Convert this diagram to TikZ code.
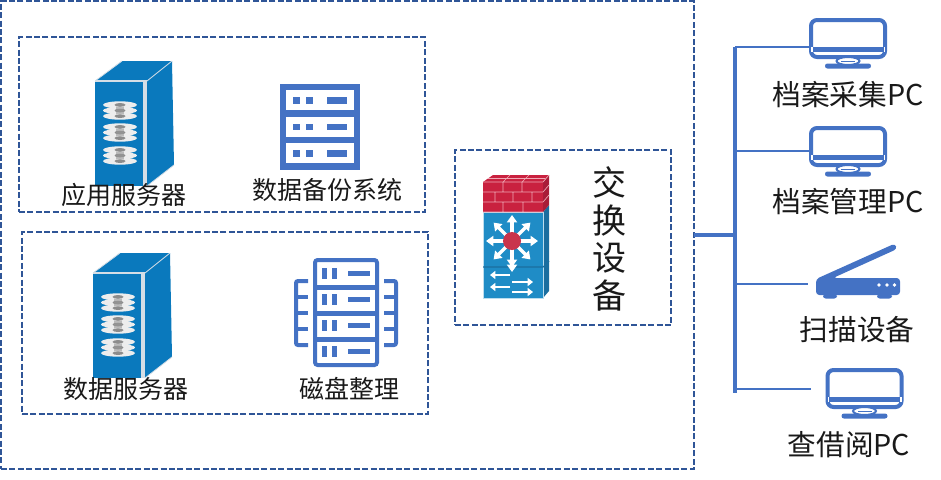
\documentclass[tikz,border=0pt]{standalone}
\usepackage{fontspec}
\setmainfont{Noto Sans CJK SC}
\usetikzlibrary{arrows.meta}
\definecolor{iconblue}{HTML}{4472C4}
\definecolor{dashnavy}{HTML}{2F5597}
\definecolor{srvblue}{HTML}{0A79BD}
\definecolor{srvstrip}{HTML}{D5DEE6}
\definecolor{swblue}{HTML}{1F8CC6}
\definecolor{swside}{HTML}{1B6E9F}
\definecolor{wallred}{HTML}{C9213F}
\definecolor{wallside}{HTML}{A81C38}
\definecolor{wallline}{HTML}{F0A8B4}
\definecolor{hubred}{HTML}{C9344C}
\tikzset{
  x=0.75pt,y=-0.75pt,
  dashbox/.style={draw=dashnavy,line width=1.6pt,dash pattern=on 4.5pt off 1.8pt,fill=none,inner sep=0pt,outer sep=0pt,anchor=north west},
  lbl/.style={inner sep=0pt,font=\fontsize{18.75pt}{22pt}\selectfont,text=black!90},
  lblbig/.style={inner sep=0pt,font=\fontsize{21.5pt}{26pt}\selectfont,text=black!90},
  vlbl/.style={inner sep=0pt,align=center,font=\fontsize{25.5pt}{28.2pt}\selectfont,text=black!90},
  busmain/.style={draw=iconblue,line width=2.4pt},
  busthin/.style={draw=iconblue,line width=1pt},
  screen/.style={draw=iconblue,line width=3pt,rounded corners=4.5pt,fill=white,minimum width=55.5pt,minimum height=27.75pt,inner sep=0pt},
  disk/.pic={
    \foreach \d in {5.6,0,-5.6}{
      \fill[white!93!black] (0,\d) ellipse [x radius=17,y radius=3.6];
      \fill[black!45] (0,\d) ellipse [x radius=5.5,y radius=1.9];
    }
    \fill[black!40,opacity=.6] (-4,-3.5) rectangle (4,3.5);
  },
  serverpic/.pic={
    \fill[srvblue] (95,81) -- (122,61) -- (172,61) -- (147,81) -- cycle;
    \fill[srvblue] (147,81) -- (172,61) -- (174,165) -- (147,186) -- cycle;
    \fill[srvblue] (95,81) rectangle (143,186);
    \fill[srvstrip] (143,81) rectangle (147,186);
    \fill[srvstrip] (95,80) rectangle (147,82);
    \draw[srvstrip,line width=.6pt] (95,81) -- (122,61) (147,81) -- (172,61) (147,186) -- (174,165);
    \pic at (120,110.5) {disk};
    \pic at (120,132.5) {disk};
    \pic at (120,155.5) {disk};
  },
  monitorpic/.pic={
    \fill[iconblue] (-37,29) rectangle (37,34);
    \fill[white] (-37,29) rectangle (-35.5,34);
    \fill[white] (35.5,29) rectangle (37,34);
    \fill[iconblue,rounded corners=1.8pt] (-23,45.5) rectangle (23,50.5);
    \draw[iconblue,line width=1.5pt,fill=white] (0,43) ellipse [x radius=11.5,y radius=4];
    \fill[iconblue] (-7,42.5) rectangle (7,44);
  }
}
\begin{document}
\begin{tikzpicture}
\useasboundingbox (0,0) rectangle (941,479);
% dashed frames
\node[dashbox,minimum width=519.6pt,minimum height=351pt] (outer) at (1,1) {};
\node[dashbox,minimum width=304.5pt,minimum height=131.2pt] (boxa) at (19,37) {};
\node[dashbox,minimum width=304.5pt,minimum height=136.5pt] (boxb) at (22,232) {};
\node[dashbox,minimum width=162pt,minimum height=131.2pt] (boxc) at (455,150) {};
% servers
\pic at (0,0) {serverpic};
\pic at (-2,192) {serverpic};
% backup system icon
\fill[iconblue] (280,84) rectangle (360,170);
\foreach \r in {90,116.5,143}{
  \fill[white] (286,\r) rectangle (353.5,\r+20);
  \fill[iconblue] (293,\r+7) rectangle (299.5,\r+13.5);
  \fill[iconblue] (306,\r+7) rectangle (312.5,\r+13.5);
  \fill[iconblue] (327,\r+7) rectangle (347,\r+13.5);
}
% disk array icon
\draw[iconblue,line width=3pt,rounded corners=2pt,fill=white] (315,260) rectangle (377,365);
\foreach \r in {285,311,337}{ \fill[iconblue] (313,\r) rectangle (379,\r+4.5); }
\foreach \r in {263,289,315,341}{
  \fill[iconblue] (322,\r+5) rectangle (327,\r+16);
  \fill[iconblue] (332,\r+5) rectangle (337,\r+16);
  \fill[iconblue] (348,\r+8) rectangle (370,\r+13);
}
\draw[iconblue,line width=3pt,rounded corners=1.5pt] (308,281) -- (296,281) -- (296,345) -- (308,345);
\draw[iconblue,line width=3pt,rounded corners=1.5pt] (384,281) -- (396,281) -- (396,345) -- (384,345);
\foreach \r in {297,313,329}{
  \draw[iconblue,line width=3.6pt] (296,\r) -- (308,\r);
  \draw[iconblue,line width=3.6pt] (384,\r) -- (396,\r);
}
% switch / firewall
\fill[swside] (543,212) -- (549,205) -- (549,291) -- (543,298) -- cycle;
\fill[swblue] (483,212) rectangle (543,298);
\draw[white!70!swblue,line width=.6pt] (483,212) rectangle (543,298);
\draw[swside,line width=.8pt] (483,267) -- (543,267) -- (549,261);
\fill[wallside] (543,182) -- (549,175) -- (549,205) -- (543,212) -- cycle;
\fill[wallred] (483,182) -- (493,175) -- (549,175) -- (543,182) -- cycle;
\fill[wallred] (483,182) rectangle (543,212);
\draw[wallline,line width=.5pt] (483,182) -- (543,182) -- (549,175)
  (483,192) -- (543,192) (483,202) -- (543,202) (483,212) -- (543,212)
  (503,182) -- (503,192) (522,182) -- (522,192)
  (495,192) -- (495,202) (513,192) -- (513,202) (532,192) -- (532,202)
  (503,202) -- (503,212) (523,202) -- (523,212)
  (543,192) -- (549,185) (543,202) -- (549,195)
  (503,182) -- (510,175) (522,182) -- (529,175) (488,178.5) -- (545,178.5);
\foreach \a in {0,45,...,315}{
  \draw[white,line width=2.6pt,-{Triangle[length=5.5pt,width=7.5pt]}] (512,241) -- ++(\a:26);
}
\draw[white,line width=2.6pt,-{Triangle[length=5.5pt,width=7.5pt]}] (512,250) -- (512,272);
\node[circle,fill=hubred,draw=none,minimum size=13.5pt,inner sep=0pt] (hub) at (512,241) {};
\foreach \ya in {275,287}{
  \draw[white,line width=2.2pt,-{Triangle[length=4pt,width=6pt]}] (510,\ya) -- (490,\ya);
}
\foreach \ya in {282,292}{
  \draw[white,line width=2.2pt,-{Triangle[length=4pt,width=6pt]}] (512,\ya) -- (533,\ya);
}
\coordinate (swout) at (694,235);
% bus
\coordinate (bustop) at (735,47);
\coordinate (busmid) at (735,235);
\coordinate (busbot) at (735,393);
\draw[busmain] (bustop) -- (busbot);
\draw[busmain] (outer.east |- swout) -- (busmid);
% monitors
\node[screen] (pca) at (848,38.5) {};
\node[screen] (pcb) at (848,146.5) {};
\node[screen] (pcc) at (864.5,388.5) {};
\pic at (848,18) {monitorpic};
\pic at (848,126) {monitorpic};
\pic at (864.5,368) {monitorpic};
% scanner
\fill[iconblue,rounded corners=2.5pt] (816,295) -- (816,279) -- (895,243.5) -- (897,249) -- (833,278) -- (900,278) -- (900,295) -- cycle;
\fill[iconblue,rounded corners=2pt] (823,294) rectangle (837,298.5);
\fill[iconblue,rounded corners=2pt] (877,294) rectangle (892,298.5);
\foreach \p in {879,887,894.5}{ \fill[white] (\p,285) circle[radius=1.4pt]; }
% branches
\coordinate (scan) at (808,284);
\coordinate (pcend) at (811,389);
\draw[busthin] (bustop) -- (pca.west |- bustop);
\draw[busthin] (735,151) -- (pcb.west |- 735,151);
\draw[busthin] (735,284) -- (scan);
\draw[busthin] (735,389) -- (pcend);
% labels
\node[lbl] (t1) at (124,195) {应用服务器};
\node[lbl] (t2) at (327,190) {数据备份系统};
\node[lbl] (t3) at (126,389) {数据服务器};
\node[lbl] (t4) at (349,389) {磁盘整理};
\node[vlbl] (t5) at (609,239) {交\\换\\设\\备};
\node[lblbig] (t6) at (848,95) {档案采集PC};
\node[lblbig] (t7) at (848,202) {档案管理PC};
\node[lblbig] (t8) at (857,330) {扫描设备};
\node[lblbig] (t9) at (849,445) {查借阅PC};
\end{tikzpicture}
\end{document}
